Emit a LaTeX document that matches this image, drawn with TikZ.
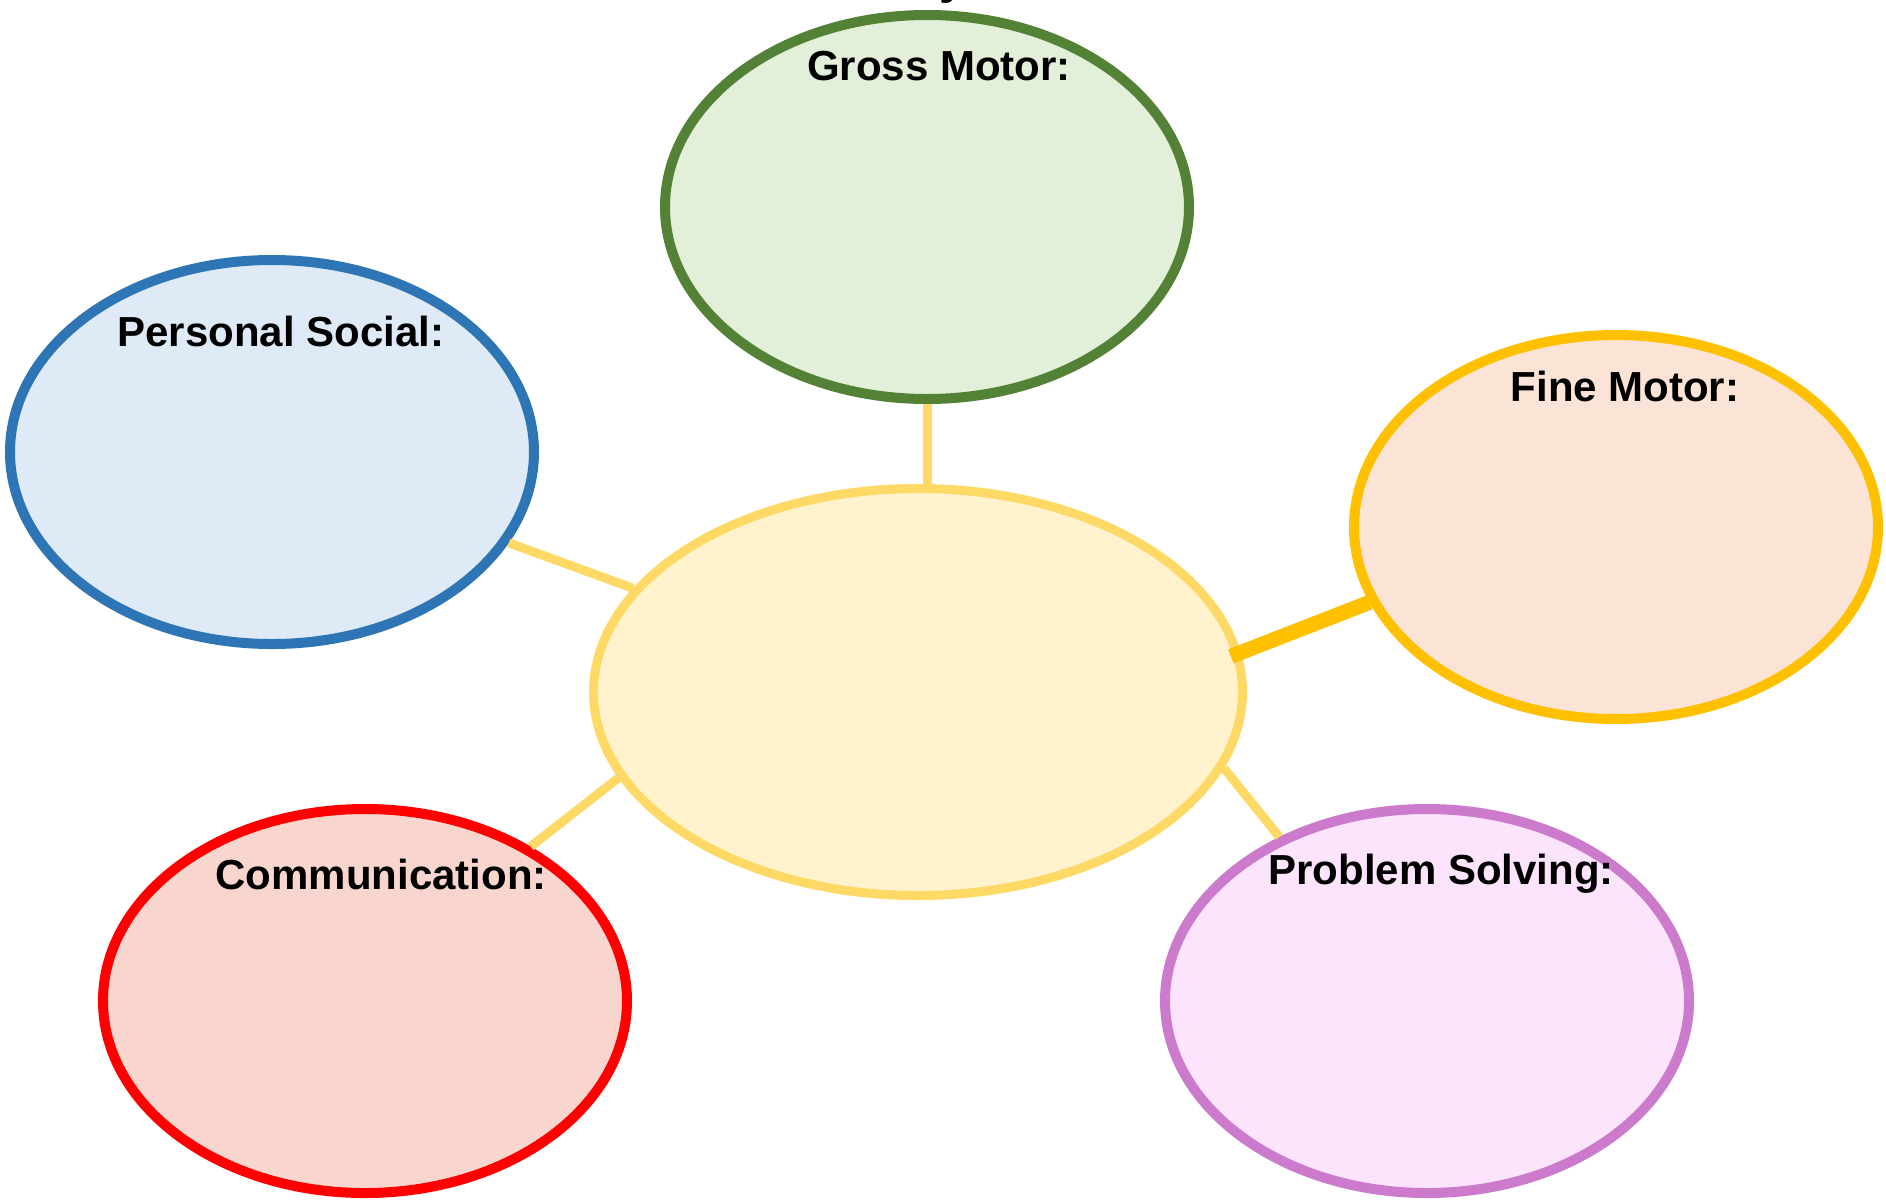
\documentclass[tikz,border=0pt]{standalone}
\usepackage{fontspec}
\setmainfont{Liberation Sans}
\usetikzlibrary{shapes.geometric}
\definecolor{gmS}{HTML}{538135}\definecolor{gmF}{HTML}{E2EFD9}
\definecolor{psS}{HTML}{2E75B6}\definecolor{psF}{HTML}{DEEAF6}
\definecolor{fmS}{HTML}{FFC000}\definecolor{fmF}{HTML}{FBE4D5}
\definecolor{cmS}{HTML}{FF0000}\definecolor{cmF}{HTML}{F8D6CD}
\definecolor{prS}{HTML}{CC7ACC}\definecolor{prF}{HTML}{FCE4FC}
\definecolor{ctS}{HTML}{FFD966}\definecolor{ctF}{HTML}{FFF2CC}
\tikzset{
  bubble/.style={ellipse, inner sep=0pt, line width=10pt, minimum width=524pt, minimum height=384pt},
  centre/.style={ellipse, inner sep=0pt, line width=9pt, draw=ctS, fill=ctF, minimum width=649pt, minimum height=407pt},
  lbl/.style={font=\fontsize{42}{50}\selectfont\bfseries, inner sep=0pt},
  link/.style={draw=ctS, line width=9pt},
  thicklink/.style={draw=fmS, line width=15pt}
}
\begin{document}
\begin{tikzpicture}[x=1pt,y=-1pt]
\useasboundingbox (0,0) rectangle (1886,1202);
\fill[white] (0,0) rectangle (1886,1202);
\node[font=\fontsize{48}{56}\selectfont\bfseries, anchor=base, inner sep=0pt] (title) at (953,-7) {y};
\node[centre] (c) at (918,692) {};
\node[bubble, draw=gmS, fill=gmF] (gm) at (927,207) {};
\node[bubble, draw=psS, fill=psF] (ps) at (272,452) {};
\node[bubble, draw=fmS, fill=fmF] (fm) at (1616,527) {};
\node[bubble, draw=cmS, fill=cmF] (cm) at (365,1001) {};
\node[bubble, draw=prS, fill=prF] (pr) at (1427,1001) {};
\draw[link] (gm.south) -- (gm.south |- c.north);
\draw[link] (c.160.4) -- (ps.-21.7);
\draw[link] (c.196.6) -- (cm.43.1);
\draw[link] (c.-14.1) -- (pr.132.3);
\draw[thicklink] ([shift={(-10,4)}]c.7.2) coordinate (fa) -- (fm.197.7);
\node[lbl] (gml) at (939,66) {Gross Motor:};
\node[lbl] (psl) at (281,331) {Personal Social:};
\node[lbl] (fml) at (1625,386) {Fine Motor:};
\node[lbl] (cml) at (381,874) {Communication:};
\node[lbl] (prl) at (1441,874) {Problem Solving:};
\end{tikzpicture}
\end{document}
